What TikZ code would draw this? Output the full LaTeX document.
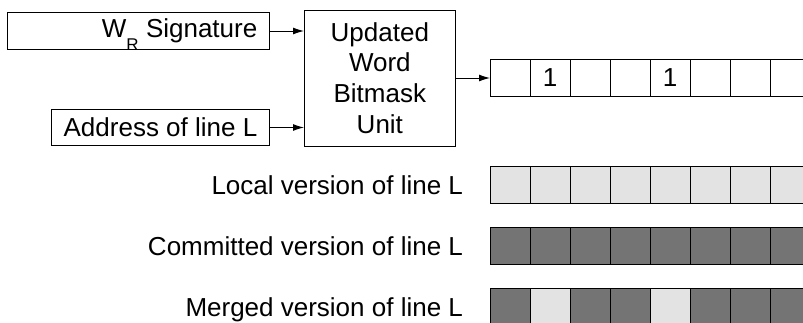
\documentclass[tikz,border=0pt]{standalone}
\usepackage{fontspec}
\setmainfont{Liberation Sans}
\usetikzlibrary{arrows.meta}
\definecolor{lightcell}{gray}{0.89}
\definecolor{darkcell}{gray}{0.455}
% low, smashed subscript so that it does not move the box text
\newcommand{\lowsub}[1]{\raisebox{-12.5pt}[0pt][0pt]{\fontsize{17}{17}\selectfont #1}}
\begin{document}
\begin{tikzpicture}[x=1pt,y=-1pt,
  every node/.style={font=\fontsize{26}{30.7}\selectfont, inner sep=0pt, outer sep=0pt},
  frame/.style={draw, line width=1pt, anchor=north west},
  cell/.style={draw, line width=1pt, minimum width=40pt, minimum height=37pt, anchor=north west},
  blank/.style={cell, fill=white},
  lite/.style={cell, fill=lightcell},
  dark/.style={cell, fill=darkcell},
  link/.style={line width=1pt, -{Latex[length=11pt,width=7pt]}},
  caption/.style={anchor=base east}]
\clip (0,0) rectangle (803,322);

% input boxes (text set flush right) and the bitmask unit
\node[frame, minimum height=36.6pt, inner xsep=12pt]
  (sig) at (7.3,12.7) {\makebox[238pt][r]{W\lowsub{R} Signature}};
\node[frame, minimum height=36.4pt, inner xsep=12pt]
  (addr) at (51.7,109.3) {\makebox[193.6pt][r]{Address of line L}};
\node[frame, minimum width=151.7pt, minimum height=136pt, text width=151.7pt, align=center]
  (unit) at (304,10) {Updated\\Word\\Bitmask\\Unit};

% updated word bitmask
\foreach \i/\t in {1/,2/1,3/,4/,5/1,6/,7/,8/}
  \node[blank] (b\i) at ({490+40*(\i-1)},59.5) {\t};

% versions of line L
\foreach \i in {1,...,8}
  \node[lite] (l\i) at ({490+40*(\i-1)},166.5) {};
\foreach \i in {1,...,8}
  \node[dark] (c\i) at ({490+40*(\i-1)},227.5) {};
\foreach \i/\s in {1/dark,2/lite,3/dark,4/dark,5/lite,6/dark,7/dark,8/dark}
  \node[\s] (m\i) at ({490+40*(\i-1)},288.5) {};

\node[caption] (lcap) at (463,194.5) {Local version of line L};
\node[caption] (ccap) at (463,255.5) {Committed version of line L};
\node[caption] (mcap) at (463,316.5) {Merged version of line L};

% connectors
\draw[link] (sig.east) -- (sig.east -| unit.west);
\draw[link] (addr.east) -- (addr.east -| unit.west);
\draw[link] (unit.east) -- (b1.west);
\end{tikzpicture}
\end{document}
